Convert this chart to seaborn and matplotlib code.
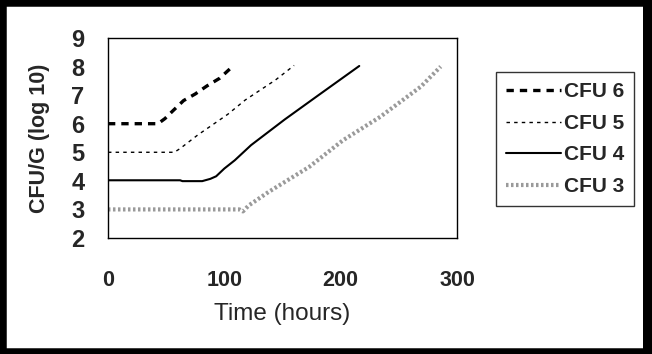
import matplotlib
matplotlib.use('Agg')
import matplotlib.pyplot as plt
import seaborn as sns
import pandas as pd
from matplotlib.patches import Rectangle

# values
cfu6_t = [0, 43, 49, 55, 65, 75, 85, 96, 107]
cfu6_y = [6.0, 6.0, 6.18, 6.42, 6.81, 7.04, 7.32, 7.59, 8.0]

cfu5_t = [0, 57, 62, 77, 103, 118, 144, 160]
cfu5_y = [5.0, 5.0, 5.13, 5.6, 6.33, 6.83, 7.53, 8.04]

cfu4_t = [0, 62, 64, 81, 88, 93, 100, 109, 123, 152, 181, 216]
cfu4_y = [4.02, 4.02, 3.99, 3.99, 4.07, 4.16, 4.43, 4.72, 5.25, 6.15, 7.0, 8.02]

cfu3_t = [0, 113, 116, 121, 138, 173, 202, 234, 269, 286]
cfu3_y = [3.0, 3.0, 2.93, 3.14, 3.61, 4.49, 5.42, 6.24, 7.3, 8.0]

labels = ['CFU 6', 'CFU 5', 'CFU 4', 'CFU 3']
x_ticks = [0, 100, 200, 300]
y_ticks = [2, 3, 4, 5, 6, 7, 8, 9]

series = [(cfu6_t, cfu6_y), (cfu5_t, cfu5_y), (cfu4_t, cfu4_y), (cfu3_t, cfu3_y)]
styles = [
    dict(color='black', lw=2.4, ls=(0, (2.2, 1.8))),
    dict(color='black', lw=1.0, ls=(0, (2.5, 3))),
    dict(color='black', lw=1.5, ls='-'),
    dict(color='#9a9a9a', lw=3.0, ls=(0, (0.6, 0.6))),
]

sns.set_theme(style='white')
plt.rcParams['font.family'] = ['Liberation Sans', 'DejaVu Sans']

fig = plt.figure(figsize=(6.52, 3.54), dpi=100)
ax = fig.add_axes([0.1656, 0.3277, 0.5353, 0.565])

for (t, y), lab, st in zip(series, labels, styles):
    df = pd.DataFrame({'t': t, 'y': y})
    sns.lineplot(data=df, x='t', y='y', ax=ax, label=lab, color=st['color'],
                 linewidth=st['lw'], linestyle=st['ls'])

ax.set_xlim(0, 300)
ax.set_ylim(2, 9)
ax.set_xticks(x_ticks)
ax.set_yticks(y_ticks)
ax.tick_params(axis='both', direction='in', length=7, width=1, color='black')
ax.tick_params(axis='x', pad=23, labelsize=15.5)
ax.tick_params(axis='y', pad=17, labelsize=17)
for lbl in ax.get_xticklabels() + ax.get_yticklabels():
    lbl.set_fontweight('bold')
for sp in ax.spines.values():
    sp.set_color('black')
    sp.set_linewidth(1)

ax.set_xlabel('Time (hours)', fontsize=17.5, labelpad=9)
ax.set_ylabel('CFU/G (log 10)', fontsize=15.5, fontweight='bold', labelpad=15)

leg = ax.legend(loc='upper left', bbox_to_anchor=(1.112, 0.83), borderaxespad=0,
                frameon=True, fancybox=False, edgecolor='black', handlelength=2.6,
                handletextpad=0.15, labelspacing=0.6, borderpad=0.5,
                prop={'size': 15, 'weight': 'bold'})
leg.get_frame().set_linewidth(1)

# thick black frame around the whole picture
fig.add_artist(Rectangle((0, 0), 1, 1, transform=fig.transFigure, fill=False,
                         edgecolor='black', linewidth=9, clip_on=False))
fig.add_artist(Rectangle((643 / 652, 0), 9 / 652, 1, transform=fig.transFigure,
                         facecolor='black', edgecolor='none', clip_on=False))

fig.savefig('out.png', dpi=100)
